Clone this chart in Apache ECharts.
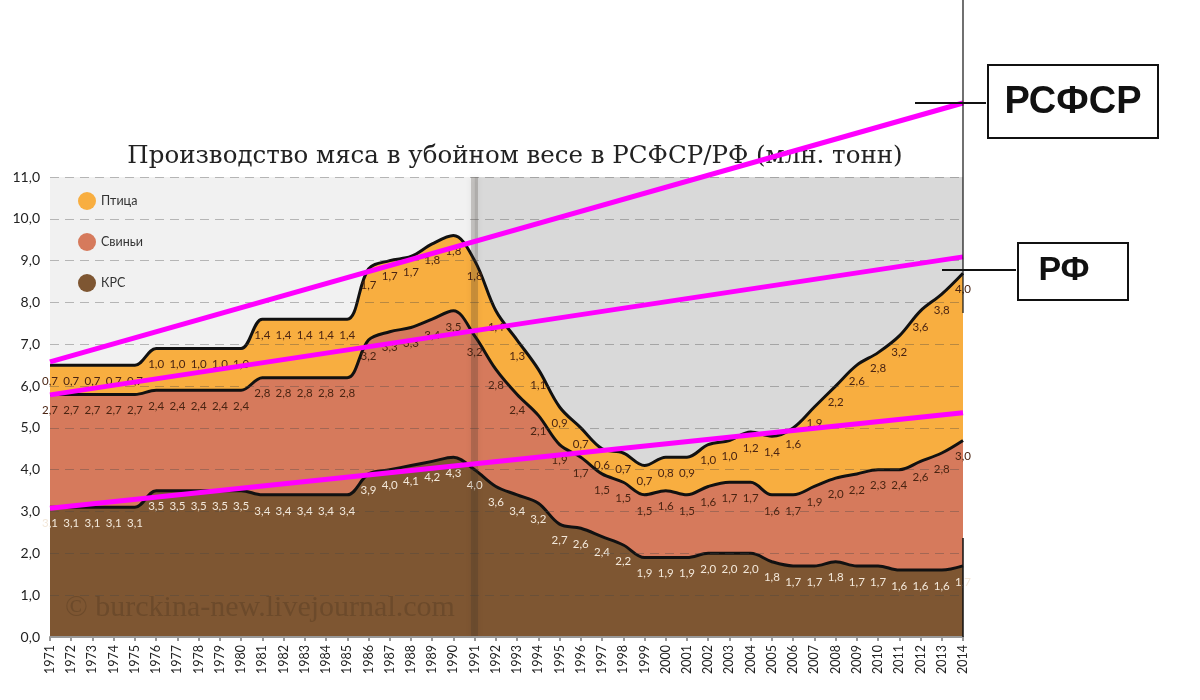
<!DOCTYPE html>
<html lang="ru">
<head>
<meta charset="UTF-8">
<title>Производство мяса</title>
<script src="https://cdn.jsdelivr.net/npm/echarts@6/dist/echarts.min.js"></script>
<style>
  html, body { margin: 0; padding: 0; background: #fff; }
  #chart { width: 1200px; height: 700px; }
</style>
</head>
<body>
<div id="chart"></div>
<script>
// годы
var years = [];
for (var y = 1971; y <= 2014; y++) years.push(String(y));

// КРС, свиньи, птица (млн. тонн)
var krs = [3.1, 3.1, 3.1, 3.1, 3.1, 3.5, 3.5, 3.5, 3.5, 3.5,
           3.4, 3.4, 3.4, 3.4, 3.4, 3.9, 4.0, 4.1, 4.2, 4.3,
           4.0, 3.6, 3.4, 3.2, 2.7, 2.6, 2.4, 2.2, 1.9, 1.9,
           1.9, 2.0, 2.0, 2.0, 1.8, 1.7, 1.7, 1.8, 1.7, 1.7,
           1.6, 1.6, 1.6, 1.7];
var svini = [2.7, 2.7, 2.7, 2.7, 2.7, 2.4, 2.4, 2.4, 2.4, 2.4,
             2.8, 2.8, 2.8, 2.8, 2.8, 3.2, 3.3, 3.3, 3.4, 3.5,
             3.2, 2.8, 2.4, 2.1, 1.9, 1.7, 1.5, 1.5, 1.5, 1.6,
             1.5, 1.6, 1.7, 1.7, 1.6, 1.7, 1.9, 2.0, 2.2, 2.3,
             2.4, 2.6, 2.8, 3.0];
var ptica = [0.7, 0.7, 0.7, 0.7, 0.7, 1.0, 1.0, 1.0, 1.0, 1.0,
             1.4, 1.4, 1.4, 1.4, 1.4, 1.7, 1.7, 1.7, 1.8, 1.8,
             1.8, 1.4, 1.3, 1.1, 0.9, 0.7, 0.6, 0.7, 0.7, 0.8,
             0.9, 1.0, 1.0, 1.2, 1.4, 1.6, 1.9, 2.2, 2.6, 2.8,
             3.2, 3.6, 3.8, 4.0];

// линии тренда (значение в 1971 и в 2014)
var trendTop = [6.58, 12.77];
var trendMid = [5.79, 9.09];
var trendLow = [3.08, 5.36];

var yTicks = [0, 1, 2, 3, 4, 5, 6, 7, 8, 9, 10, 11];

function fmt(v) { return v.toFixed(1).replace('.', ','); }

function areaSeries(name, data, fill, labelColor, z) {
    return {
        name: name,
        type: 'line',
        stack: 'meat',
        data: data,
        smooth: 0.35,
        symbol: 'circle',
        symbolSize: 0.1,
        showSymbol: true,
        z: z,
        itemStyle: { color: fill },
        lineStyle: { color: '#111', width: 3 },
        areaStyle: { color: fill, opacity: 1 },
        label: {
            show: true,
            position: 'bottom',
            distance: 10,
            fontFamily: 'Lato',
            fontSize: 11.5,
            color: labelColor,
            formatter: function (p) { return fmt(p.value); }
        },
        labelLayout: { hideOverlap: false }
    };
}

function trend(vals) {
    return {
        type: 'line',
        data: [[years[0], vals[0]], [years[years.length - 1], vals[1]]],
        symbol: 'none',
        clip: false,
        silent: true,
        z: 10,
        lineStyle: { color: '#ff00ff', width: 5 }
    };
}

var chart = echarts.init(document.getElementById('chart'));
chart.setOption({
    animation: false,
    backgroundColor: '#fff',
    title: {
        text: 'Производство мяса в убойном весе в РСФСР/РФ (млн. тонн)',
        left: 510,
        textAlign: 'center',
        top: 139,
        textStyle: { fontFamily: 'DejaVu Serif', fontSize: 24.5, fontWeight: 'normal', color: '#222' }
    },
    legend: {
        data: ['Птица', 'Свиньи', 'КРС'],
        orient: 'vertical',
        left: 73,
        top: 187,
        itemGap: 23,
        itemWidth: 18,
        itemHeight: 18,
        icon: 'circle',
        itemStyle: { borderWidth: 0 },
        textStyle: { fontFamily: 'Lato', fontSize: 12.5, color: '#333' }
    },
    grid: { left: 50, right: 237, top: 177, bottom: 63 },
    xAxis: {
        type: 'category',
        data: years,
        boundaryGap: false,
        axisLine: { lineStyle: { color: '#999', width: 2 } },
        axisTick: { show: true, interval: 0, lineStyle: { color: '#999', width: 2 }, length: 4 },
        axisLabel: { interval: 0, rotate: 90, fontFamily: 'Lato', fontSize: 12.5, color: '#222', margin: 8 },
        splitLine: { show: false },
        z: 6
    },
    yAxis: {
        type: 'value',
        min: yTicks[0],
        max: yTicks[yTicks.length - 1],
        interval: 1,
        axisLine: { show: false },
        axisTick: { show: false },
        axisLabel: { fontFamily: 'Lato', fontSize: 14, color: '#222', margin: 10, formatter: fmt },
        splitLine: { show: true, lineStyle: { color: 'rgba(70,70,70,0.35)', type: [9, 6], width: 1.2 } },
        z: 5
    },
    series: [
        {
            name: 'фон',
            type: 'line',
            data: [],
            z: 0,
            silent: true,
            markArea: {
                silent: true,
                data: [
                    [{ xAxis: '1971', itemStyle: { color: '#f1f1f1' } }, { xAxis: '1991' }],
                    [{ xAxis: '1991', itemStyle: { color: '#d9d9d9' } }, { xAxis: '2014' }]
                ]
            }
        },
        areaSeries('КРС', krs, '#7e5632', '#f3e8da', 3),
        areaSeries('Свиньи', svini, '#d67a5c', '#4a2412', 2),
        areaSeries('Птица', ptica, '#f8ae40', '#4a2412', 1),
        {
            name: 'граница',
            type: 'line',
            data: [],
            z: 7,
            silent: true,
            markLine: {
                silent: true,
                symbol: 'none',
                label: { show: false },
                lineStyle: { color: 'rgba(60,50,40,0.22)', width: 7, type: 'solid', shadowBlur: 6, shadowColor: 'rgba(0,0,0,0.3)' },
                data: [{ xAxis: '1991' }]
            }
        },
        trend(trendTop),
        trend(trendMid),
        trend(trendLow)
    ],
    graphic: [
        { type: 'text', left: 65, top: 593, silent: true, z: 8,
          style: { text: '© burckina-new.livejournal.com', font: '30px "Liberation Serif"', fill: 'rgba(30,20,10,0.18)' } },
        { type: 'line', shape: { x1: 963, y1: 0, x2: 963, y2: 313 }, style: { stroke: '#111', lineWidth: 1.2 }, z: 11 },
        { type: 'line', shape: { x1: 963, y1: 538, x2: 963, y2: 637 }, style: { stroke: '#111', lineWidth: 1.5 }, z: 11 },
        { type: 'line', shape: { x1: 915, y1: 103, x2: 986, y2: 103 }, style: { stroke: '#111', lineWidth: 2 }, z: 11 },
        { type: 'rect', shape: { x: 988, y: 65, width: 170, height: 73 }, style: { fill: '#fff', stroke: '#111', lineWidth: 2 }, z: 11 },
        { type: 'text', x: 1073, y: 103, z: 12,
          style: { text: 'РСФСР', font: 'bold 38px "Liberation Sans"', fill: '#111', textAlign: 'center', textVerticalAlign: 'middle' } },
        { type: 'line', shape: { x1: 942, y1: 270, x2: 1016, y2: 270 }, style: { stroke: '#111', lineWidth: 2 }, z: 11 },
        { type: 'rect', shape: { x: 1018, y: 243, width: 110, height: 57 }, style: { fill: '#fff', stroke: '#111', lineWidth: 2 }, z: 11 },
        { type: 'text', x: 1064, y: 271, z: 12,
          style: { text: 'РФ', font: 'bold 34px "Liberation Sans"', fill: '#111', textAlign: 'center', textVerticalAlign: 'middle' } }
    ]
});
</script>
</body>
</html>
